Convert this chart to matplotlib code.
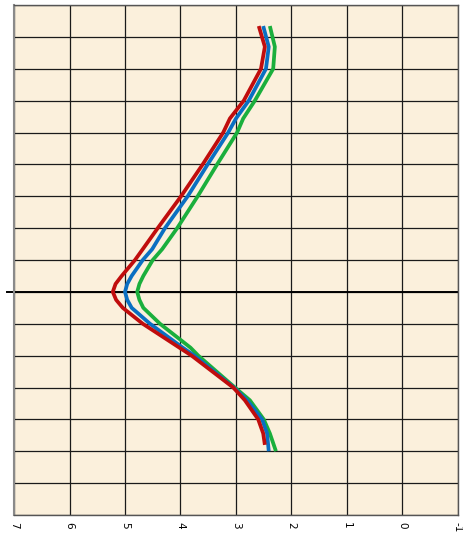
import matplotlib.pyplot as plt
import numpy as np

# vertical position of each sample (0 = thick black line)
levels = [8.34, 7.69, 7.0, 6.0, 5.44, 5.0, 4.0, 3.0, 2.0, 1.34, 1.0, 0.5, 0.25, 0.0,
          -0.25, -0.5, -1.0, -1.75, -2.0, -3.0, -3.4, -4.0, -4.44, -5.0]
red_levels = levels[:-1] + [-4.8]

red = [2.59, 2.48, 2.55, 2.86, 3.11, 3.23, 3.60, 3.99, 4.41, 4.68, 4.82, 5.06, 5.17, 5.22,
       5.16, 5.04, 4.68, 4.02, 3.80, 3.05, 2.84, 2.60, 2.51, 2.48]
blue = [2.51, 2.41, 2.46, 2.77, 3.00, 3.14, 3.51, 3.87, 4.28, 4.51, 4.68, 4.88, 4.96, 5.00,
        4.96, 4.88, 4.55, 3.96, 3.75, 3.04, 2.80, 2.53, 2.44, 2.41]
green = [2.39, 2.30, 2.33, 2.66, 2.87, 2.98, 3.34, 3.69, 4.06, 4.33, 4.50, 4.67, 4.74, 4.78,
         4.74, 4.67, 4.37, 3.82, 3.68, 3.02, 2.75, 2.50, 2.39, 2.28]

xticks = [7, 6, 5, 4, 3, 2, 1, 0, -1]

fig = plt.figure(figsize=(4.64, 5.38), dpi=100)
ax = fig.add_axes([14 / 464, 23 / 538, 444 / 464, 510 / 538])
ax.set_facecolor('#fbf0dc')

style = dict(lw=2.7, solid_capstyle='butt', solid_joinstyle='round')
ax.plot(green, levels, color='#1aaf3c', zorder=3, **style)
ax.plot(blue, levels, color='#0a6fc2', zorder=4, **style)
ax.plot(red, red_levels, color='#c00d0d', zorder=5, **style)

ax.set_xlim(7, -1)
ax.set_ylim(-7, 9)
ax.set_xticks(xticks)
ax.set_xticklabels([str(t) for t in xticks], rotation=-90, fontsize=7.5)
ax.set_yticks(range(-7, 10))
ax.tick_params(axis='both', length=0)
ax.tick_params(axis='x', pad=5)
ax.tick_params(axis='y', labelleft=False)
ax.grid(True, color='#1a1a1a', lw=0.9)

# thick zero line, poking out a little on the left
ax.axhline(0, xmin=-0.016, xmax=1, color='black', lw=1.4, clip_on=False, zorder=2)

for s in ax.spines.values():
    s.set_color('#555555')
    s.set_linewidth(1.0)
ax.spines['left'].set_color('#8a8a8a')
ax.spines['left'].set_linewidth(1.5)

fig.savefig('out.png', dpi=100)
